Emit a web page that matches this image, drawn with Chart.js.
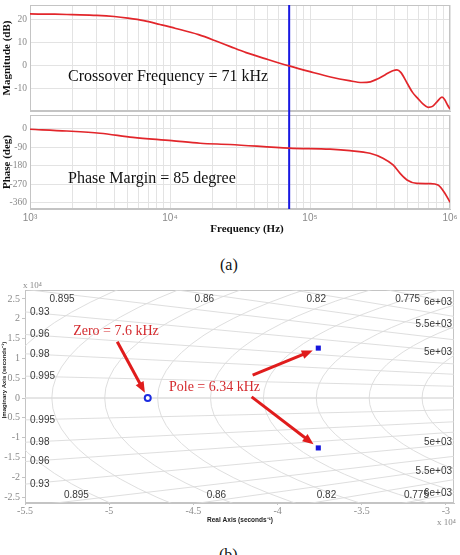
<!DOCTYPE html>
<html><head><meta charset="utf-8">
<script src="https://cdn.jsdelivr.net/npm/chart.js@4.4.1/dist/chart.umd.min.js"></script>
<style>
html,body{margin:0;padding:0;background:#fff;width:460px;height:555px;overflow:hidden;position:relative;}
canvas{position:absolute;left:0;}
.cap{position:absolute;font-family:'Liberation Serif','Times New Roman',serif;font-size:16px;color:#111;line-height:18px;}
</style></head><body>
<canvas id="mag" width="460" height="113" style="top:0;width:460px;height:113px"></canvas>
<canvas id="pha" width="460" height="127" style="top:113px;width:460px;height:127px"></canvas>
<div class="cap" style="left:220px;top:256px">(a)</div>
<canvas id="pz" width="460" height="250" style="top:280px;width:460px;height:250px"></canvas>
<div class="cap" style="left:219px;top:546px">(b)</div>
<script>
const SERIF = "'Liberation Serif','Times New Roman',serif";
const SANS = "'Liberation Sans',Arial,sans-serif";

// ---------- Bode data ----------
const magFreqHz = [1000,1500,2000,3000,4000,5000,6500,8500,11000,16000,22000,27000,35000,50000,71000,100000,140000,190000,235000,270000,300000,345000,390000,418000,445000,493000,540000,591000,640000,697000,750000,810000,877000,920000,960000,1000000];
const magDb     = [22.6,22.5,22.3,22.0,21.5,20.8,19.7,18.0,16.3,13.6,10.5,8.4,5.8,2.8,0,-2.5,-4.8,-6.4,-7.2,-6.9,-5.8,-3.8,-2.1,-1.7,-2.8,-7.4,-11.5,-14.2,-16.5,-18.0,-17.6,-15.5,-13.6,-14.8,-17.0,-18.7];
const phaseFreqHz = [1000,1830,3160,5440,10300,16400,26800,71000,139000,193000,268000,332000,392000,440000,493000,581000,720000,821000,921000,1000000];
const phaseDeg    = [-1.5,-10,-21,-41,-57,-70,-76,-94,-99,-106,-119,-143,-176,-217,-249,-266,-267,-274,-315,-358];
const crossoverHz = 71000;
const crossoverText = 'Crossover Frequency = 71 kHz';
const marginText = 'Phase Margin = 85 degree';
const freqDecades = [1000,10000,100000];
const freqMultipliers = [1,2,3,4,5,6,7,8,9];
const magTicks = [-10,0,10,20];
const phaseTicks = [-360,-270,-180,-90,0];

// ---------- Pole-zero data (seconds^-1) ----------
const zeroRe = [-47710];
const zeroIm = [0];
const poleRe = [-37580,-37580];
const poleIm = [12600,-12600];
const pzMultiplier = 1e4;
const pzXTicks = [-5.5,-5,-4.5,-4,-3.5,-3];
const pzYTicks = [-2.5,-2,-1.5,-1,-0.5,0,0.5,1,1.5,2,2.5];
const dampingRatios = [0.775,0.82,0.86,0.895,0.93,0.96,0.98,0.995,1];
const naturalFreqHz = [4500,5000,5500,6000,6500,7000,7500,8000,8500,9000];
const zeroText = 'Zero = 7.6 kHz';
const poleText = 'Pole = 6.34 kHz';

const freqGrid = [];
freqDecades.forEach(d => freqMultipliers.forEach(m => freqGrid.push(d*m)));
freqGrid.push(1000000);
const SUP = {3:'\u00B3',4:'\u2074',5:'\u2075',6:'\u2076'};

const GRID = '#e3e3e3', BORDER = '#c4c4c4', TICKC = '#8a8a8a';
const RED = '#e2262b', BLUE = '#1818e4';

const boxPlugin = {
  id:'box',
  beforeDatasetsDraw(chart){
    const {ctx, chartArea:a} = chart;
    ctx.save(); ctx.strokeStyle = BORDER; ctx.lineWidth = 1;
    ctx.strokeRect(Math.round(a.left)+0.5, Math.round(a.top)+0.5, Math.round(a.right-a.left)-1, Math.round(a.bottom-a.top)-1);
    ctx.restore();
  }
};

function textPlugin(id, items){
  return { id, afterDatasetsDraw(chart){
    const ctx = chart.ctx;
    items(chart).forEach(t => {
      ctx.save();
      ctx.font = t.font; ctx.fillStyle = t.color; ctx.textAlign = t.align || 'left'; ctx.textBaseline = 'middle';
      ctx.translate(t.x, t.y); if (t.rot) ctx.rotate(t.rot);
      ctx.fillText(t.text, 0, 0);
      ctx.restore();
    });
  }};
}

function bodeScaleX(showLabels, heightPx){
  return {
    type:'logarithmic', min:1000, max:1000000,
    afterBuildTicks: s => { s.ticks = freqGrid.map(v => ({value:v})); },
    ticks:{display:showLabels, autoSkip:false, maxRotation:0, padding:3, color:TICKC,
      font:{family:SANS, size:10},
      callback: v => { const l = Math.log10(v); const r = Math.round(l); return Math.abs(l-r) < 1e-9 ? '10'+SUP[r] : ''; }},
    grid:{color:GRID, drawTicks:false},
    border:{color:BORDER},
    afterFit: s => { s.height = heightPx; s.paddingLeft = 0; s.paddingRight = 0; }
  };
}
function bodeScaleY(min, max, ticks, title){
  return {
    min, max,
    afterBuildTicks: s => { s.ticks = ticks.map(v => ({value:v})); },
    ticks:{padding:3, color:TICKC, font:{family:SERIF, size:9.5}},
    grid:{color:GRID, drawTicks:false},
    border:{color:BORDER},
    title:{display:true, text:title, color:'#111', font:{family:SERIF, size:11, weight:'bold'}, padding:{top:1,bottom:0}},
    afterFit: s => { s.width = 30; s.paddingTop = 0; s.paddingBottom = 0; }
  };
}
const common = {animation:false, responsive:false, events:[],
  plugins:{legend:{display:false}, tooltip:{enabled:false}}};

// Magnitude
new Chart(document.getElementById('mag'), {
  type:'scatter',
  data:{datasets:[
    {data: magFreqHz.map((f,i)=>({x:f, y:magDb[i]})), showLine:true, borderColor:RED, borderWidth:1.7, pointRadius:0, cubicInterpolationMode:'monotone'},
    {data: [{x:crossoverHz, y:-1000},{x:crossoverHz, y:1000}], showLine:true, borderColor:BLUE, borderWidth:2, pointRadius:0, clip:{left:0,top:0,right:0,bottom:4}}
  ]},
  options:{...common, layout:{padding:{top:5,right:10,left:0,bottom:0}},
    scales:{x: bodeScaleX(false, 2), y: bodeScaleY(-19.6, 26.5, magTicks, 'Magnitude (dB)')}},
  plugins:[boxPlugin, textPlugin('t1', ch => [
    {text:crossoverText, x:ch.scales.x.getPixelForValue(1868), y:ch.scales.y.getPixelForValue(-4.8), font:'16px '+SERIF, color:'#111'}
  ])]
});

// Phase
new Chart(document.getElementById('pha'), {
  type:'scatter',
  data:{datasets:[
    {data: phaseFreqHz.map((f,i)=>({x:f, y:phaseDeg[i]})), showLine:true, borderColor:RED, borderWidth:1.7, pointRadius:0, cubicInterpolationMode:'monotone'},
    {data: [{x:crossoverHz, y:-1000},{x:crossoverHz, y:1000}], showLine:true, borderColor:BLUE, borderWidth:2, pointRadius:0, clip:{left:0,top:4,right:0,bottom:0}}
  ]},
  options:{...common, layout:{padding:{top:2,right:10,left:0,bottom:0}},
    scales:{x: bodeScaleX(true, 31), y: bodeScaleY(-391, 68, phaseTicks, 'Phase (deg)')}},
  plugins:[boxPlugin, textPlugin('t2', ch => [
    {text:marginText, x:ch.scales.x.getPixelForValue(1868), y:ch.scales.y.getPixelForValue(-244.6), font:'16px '+SERIF, color:'#111'},
    {text:'Frequency (Hz)', x:247, y:116, align:'center', font:'bold 11px '+SERIF, color:'#111'}
  ])]
});

// Pole-zero map
function fmtHz(f){ const e = Math.floor(Math.log10(f)); const m = parseFloat((f/Math.pow(10,e)).toFixed(2)); return m + 'e+' + String(e).padStart(2,'0'); }

const sgridPlugin = {
  id:'sgrid',
  beforeDatasetsDraw(chart){
    const {ctx, chartArea:a, scales:{x, y}} = chart;
    const cx = x.getPixelForValue(0), cy = y.getPixelForValue(0);
    const kx = x.getPixelForValue(1) - cx, ky = cy - y.getPixelForValue(1);
    ctx.save();
    ctx.beginPath(); ctx.rect(a.left, a.top, a.right-a.left, a.bottom-a.top); ctx.clip();
    ctx.strokeStyle = '#dadada'; ctx.lineWidth = 0.9;
    naturalFreqHz.forEach(f => {
      const r = 2*Math.PI*f;
      ctx.beginPath(); ctx.ellipse(cx, cy, r*kx, r*ky, 0, 0, 2*Math.PI); ctx.stroke();
    });
    const R = 2e5;
    dampingRatios.forEach(z => {
      const s = Math.sqrt(1-z*z);
      [1,-1].forEach(sg => {
        ctx.beginPath(); ctx.moveTo(cx, cy);
        ctx.lineTo(x.getPixelForValue(-z*R), y.getPixelForValue(sg*s*R)); ctx.stroke();
      });
    });
    ctx.restore();
    // labels
    ctx.save();
    ctx.font = '10px '+SANS; ctx.fillStyle = '#3a3a3a'; ctx.textBaseline = 'middle';
    const xmin = x.min, xmax = x.max, ymax = y.max, ymin = y.min;
    dampingRatios.forEach(z => {
      if (z >= 1) return;
      const slope = Math.sqrt(1-z*z)/z;
      const lbl = String(z);
      const yl = slope*(-xmin);
      if (yl < ymax) { ctx.textAlign='left'; ctx.fillText(lbl, a.left+5, y.getPixelForValue(yl)); }
      else { ctx.textAlign='center'; ctx.fillText(lbl, x.getPixelForValue(-(0.965*ymax)/slope), a.top+9); }
      if (yl < -ymin) { ctx.textAlign='left'; ctx.fillText(lbl, a.left+5, y.getPixelForValue(-yl)); }
      else { ctx.textAlign='center'; ctx.fillText(lbl, x.getPixelForValue(-(0.977*(-ymin))/slope), a.bottom-8); }
    });
    ctx.textAlign = 'right';
    naturalFreqHz.forEach(f => {
      const r = 2*Math.PI*f;
      if (r <= -xmax) return;
      const yi = Math.sqrt(r*r - xmax*xmax);
      if (yi < ymax) ctx.fillText(fmtHz(f), a.right-2, y.getPixelForValue(yi)-3);
      if (yi < -ymin) ctx.fillText(fmtHz(f), a.right-2, y.getPixelForValue(-yi)+2);
    });
    ctx.restore();
  }
};

function drawArrow(ctx, x1, y1, x2, y2){
  const ang = Math.atan2(y2-y1, x2-x1), hl = 11, hw = 9;
  const bx = x2 - hl*Math.cos(ang), by = y2 - hl*Math.sin(ang);
  ctx.strokeStyle = '#e01c1c'; ctx.fillStyle = '#e01c1c'; ctx.lineWidth = 3;
  ctx.beginPath(); ctx.moveTo(x1, y1); ctx.lineTo(bx + 2*Math.cos(ang), by + 2*Math.sin(ang)); ctx.stroke();
  ctx.beginPath(); ctx.moveTo(x2, y2);
  ctx.lineTo(bx + hw/2*Math.sin(ang), by - hw/2*Math.cos(ang));
  ctx.lineTo(bx - hw/2*Math.sin(ang), by + hw/2*Math.cos(ang));
  ctx.closePath(); ctx.fill();
}
const arrows = [
  {fromRe:-49520, fromIm:14200, toRe:zeroRe[0], toIm:zeroIm[0]},
  {fromRe:-41480, fromIm:5800,  toRe:poleRe[0], toIm:poleIm[0]},
  {fromRe:-41540, fromIm:300,   toRe:poleRe[1], toIm:poleIm[1]}
];
const arrowPlugin = {
  id:'arrows',
  afterDatasetsDraw(chart){
    const {ctx, scales:{x, y}} = chart;
    ctx.save();
    arrows.forEach(ar => {
      const x1 = x.getPixelForValue(ar.fromRe), y1 = y.getPixelForValue(ar.fromIm);
      const px = x.getPixelForValue(ar.toRe), py = y.getPixelForValue(ar.toIm);
      const d = Math.hypot(px-x1, py-y1), g = 6;
      drawArrow(ctx, x1, y1, px - (px-x1)/d*g, py - (py-y1)/d*g);
    });
    ctx.restore();
  }
};

new Chart(document.getElementById('pz'), {
  type:'scatter',
  data:{datasets:[
    {data: zeroRe.map((v,i)=>({x:v, y:zeroIm[i]})), pointStyle:'circle', pointRadius:3, borderWidth:2, borderColor:'#1c2ce0', backgroundColor:'#ffffff'},
    {data: poleRe.map((v,i)=>({x:v, y:poleIm[i]})), pointStyle:'rect', pointRadius:3.6, borderWidth:0, backgroundColor:'#1616dc'}
  ]},
  options:{...common, layout:{padding:{top:10,right:6,left:0,bottom:0}},
    scales:{
      x:{type:'linear', min:-55000, max:-29520,
        afterBuildTicks: s => { s.ticks = pzXTicks.map(v => ({value:v*pzMultiplier})); },
        ticks:{padding:0, color:TICKC, font:{family:SERIF, size:10}, autoSkip:false, maxRotation:0,
          callback: (v,i) => String(pzXTicks[i])},
        grid:{drawOnChartArea:false, tickLength:2, color:BORDER},
        border:{color:BORDER},
        afterFit: s => { s.height = 27; s.paddingLeft = 0; s.paddingRight = 0; }},
      y:{min:-26500, max:27270,
        afterBuildTicks: s => { s.ticks = pzYTicks.map(v => ({value:v*pzMultiplier})); },
        ticks:{padding:2, color:TICKC, font:{family:SERIF, size:10}, autoSkip:false,
          callback: (v,i) => String(pzYTicks[i])},
        grid:{drawOnChartArea:false, tickLength:3, color:BORDER},
        border:{color:BORDER},
        afterFit: s => { s.width = 25; s.paddingTop = 0; s.paddingBottom = 0; }}
    }},
  plugins:[boxPlugin, sgridPlugin, arrowPlugin, textPlugin('t3', ch => [
    {text:zeroText, x:ch.scales.x.getPixelForValue(-52140), y:ch.scales.y.getPixelForValue(16900), font:'14px '+SERIF, color:'#d42a2e'},
    {text:poleText, x:ch.scales.x.getPixelForValue(-46450), y:ch.scales.y.getPixelForValue(2800), font:'14px '+SERIF, color:'#d42a2e'},
    {text:'x 10\u2074', x:23, y:6, font:'9px '+SERIF, color:TICKC},
    {text:'x 10\u2074', x:437, y:243, font:'9px '+SERIF, color:TICKC},
    {text:'Real Axis (seconds\u207B\u00B9)', x:240, y:240, align:'center', font:'bold 6.5px '+SANS, color:'#222'},
    {text:'Imaginary Axis (seconds\u207B\u00B9)', x:4, y:100, align:'center', rot:-Math.PI/2, font:'bold 6px '+SANS, color:'#222'}
  ])]
});
</script>
</body></html>
